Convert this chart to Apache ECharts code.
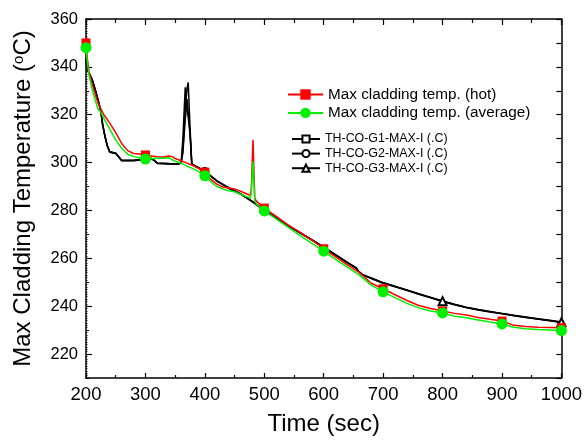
<!DOCTYPE html>
<html>
<head>
<meta charset="utf-8">
<script src="https://cdn.jsdelivr.net/npm/echarts@6/dist/echarts.min.js"></script>
<style>
  html, body { margin: 0; padding: 0; background: #fff; }
  #chart { width: 585px; height: 441px; }
</style>
</head>
<body>
<div id="chart"></div>
<script>
// model results: max cladding temperature, hot channel and average channel
var modelTime = [200, 202, 205, 210, 215, 220, 225, 230, 240, 250, 260, 270, 280, 290, 300, 310, 320, 330, 340, 345, 350, 360, 370, 380, 390, 400, 410, 420, 430, 440, 450, 460, 470, 476, 478, 481, 484, 487, 490, 500, 520, 540, 560, 580, 600, 620, 640, 660, 680, 700, 720, 740, 760, 780, 800, 820, 840, 860, 880, 900, 920, 940, 960, 980, 1000];
var hotTemp = [350, 344, 338, 333, 329, 325, 322.5, 320, 316.5, 312.5, 308, 305, 303.8, 303.6, 303.2, 302.8, 302.4, 302.3, 302.8, 302.5, 301.7, 300.8, 299.8, 298.8, 297.5, 296, 293, 291, 289.8, 289.4, 289, 288, 287, 286.3, 288, 309.5, 285, 283.8, 283, 281, 277.5, 274, 270.8, 267.6, 264, 260.6, 257.3, 254, 249.6, 247.3, 244.8, 242.4, 240.3, 239, 238, 237, 236.3, 235.3, 234.5, 233.8, 232, 231.5, 231.2, 231.1, 231];
var avgTemp = [348, 342.5, 336.5, 331, 326.5, 322.5, 321, 318.5, 314, 309.5, 306, 303.5, 302.5, 302, 301.5, 301.6, 301.8, 301.8, 302, 301.2, 300.6, 299.8, 298.5, 297.5, 296.2, 294.5, 292, 290, 289, 288.2, 287.8, 286.8, 285.8, 285.2, 287, 300.5, 284, 282.6, 282, 279.8, 276.5, 273, 269.6, 266.3, 263, 259.6, 256.3, 253, 248.8, 246, 243.6, 241.2, 239.3, 238, 237.2, 235.8, 235.2, 234.2, 233.4, 232.6, 231.2, 230.6, 230.3, 230.1, 229.8];
var modelMarks = [200, 300, 400, 500, 600, 700, 800, 900, 1000];

// measured thermocouples
var testTime = [200, 202, 205, 210, 215, 220, 225, 228, 232, 236, 240, 250, 255, 260, 280, 300, 310, 315, 320, 340, 355, 360, 363, 367, 370, 372, 375, 378, 385, 400, 420, 440, 460, 470, 480, 490, 500, 520, 540, 560, 580, 600, 620, 640, 655, 658, 665, 680, 700, 705, 720, 740, 760, 780, 800, 820, 840, 860, 880, 900, 920, 940, 960, 980, 1000];
var g1Temp = [344, 339, 337.5, 335, 331, 326.5, 321.5, 316, 311, 307, 304.5, 304, 302.5, 301, 301, 301.5, 301.8, 301, 299.8, 299.6, 299.5, 300, 305, 322, 331, 333.5, 315, 299.5, 298.5, 296.5, 292.5, 289.5, 287, 285.5, 283.8, 282, 280, 277, 273.8, 270.8, 267.8, 264.8, 261.5, 258.3, 256, 254.8, 253.3, 251.8, 249.8, 249.5, 248.3, 246.8, 245.2, 243.7, 242.2, 240.8, 239.6, 238.6, 237.8, 237, 236.2, 235.5, 234.8, 234.1, 233.4];
var g2Temp = [343, 339, 337.3, 334.8, 330.8, 326.3, 321.3, 315.8, 310.8, 306.8, 304.3, 303.8, 302.3, 300.8, 300.8, 301.3, 301.6, 300.8, 299.6, 299.4, 299.3, 299.8, 310, 331.5, 322, 319, 312, 299.3, 298.3, 296.3, 292.3, 289.3, 286.8, 285.3, 283.6, 281.8, 279.8, 276.8, 273.6, 270.6, 267.6, 264.6, 261.3, 258.1, 255.8, 254.6, 253.1, 251.6, 249.6, 249.3, 248.1, 246.6, 245, 243.5, 242, 240.6, 239.4, 238.4, 237.6, 236.8, 236, 235.3, 234.6, 233.9, 233.2];
var g3Temp = [343.5, 339, 337.4, 334.9, 330.9, 326.4, 321.4, 315.9, 310.9, 306.9, 304.4, 303.9, 302.4, 300.9, 300.9, 301.4, 301.7, 300.9, 299.7, 299.5, 299.4, 299.9, 304, 318, 326.5, 327, 313, 299.4, 298.4, 296.4, 292.4, 289.4, 286.9, 285.4, 283.7, 281.9, 279.9, 276.9, 273.7, 270.7, 267.7, 264.7, 261.4, 258.2, 255.9, 254.7, 253.2, 251.7, 249.7, 249.4, 248.2, 246.7, 245.1, 243.6, 242.1, 240.7, 239.5, 238.5, 237.7, 236.9, 236.1, 235.4, 234.7, 234, 233.3];
var g1Marks = [];
var g2Marks = [400];
var g3Marks = [800, 1000];

var yTicks = [220, 240, 260, 280, 300, 320, 340, 360];

var names = ['Max cladding temp. (hot)', 'Max cladding temp. (average)',
  'TH-CO-G1-MAX-I (.C)', 'TH-CO-G2-MAX-I (.C)', 'TH-CO-G3-MAX-I (.C)'];

function pts(xs, ys, marks) {
  return xs.map(function(x, i) {
    var p = {value: [x, ys[i]]}
    if (marks.indexOf(x) < 0) p.symbol = 'none'
    return p
  })
}

var font = 'Liberation Sans, Arial, sans-serif';
var axisLine = {show: true, lineStyle: {color: '#000', width: 1.5}};

var chart = echarts.init(document.getElementById('chart'));
chart.setOption({
  animation: false,
  grid: {left: 86, right: 22, top: 19, bottom: 63, containLabel: false},
  legend: [{
    data: names.slice(0, 2), orient: 'vertical', left: 287, top: 87, padding: 0,
    itemWidth: 35, itemHeight: 13, itemGap: 3.4,
    textStyle: {fontSize: 15.3, color: '#000', fontFamily: font}
  }, {
    data: names.slice(2), orient: 'vertical', left: 291, top: 133, padding: 0,
    itemWidth: 28, itemHeight: 9, itemGap: 2.6,
    textStyle: {fontSize: 12.4, color: '#000', fontFamily: font}
  }],
  xAxis: [{
    type: 'value', position: 'bottom', min: 200, max: 1000, interval: 100,
    axisLine: axisLine, splitLine: {show: false},
    axisTick: {inside: true, length: 5, lineStyle: {color: '#000', width: 1.2}},
    minorTick: {show: true, splitNumber: 2, length: 3, lineStyle: {color: '#000', width: 1.2}},
    axisLabel: {fontSize: 18.5, color: '#000', fontFamily: font, margin: 7,
      formatter: function(v) { return String(v) }},
    name: 'Time (sec)', nameLocation: 'middle', nameGap: 34,
    nameTextStyle: {fontSize: 24, color: '#000', fontFamily: font}
  }, {
    type: 'value', position: 'top', min: 200, max: 1000, interval: 100,
    axisLine: axisLine, splitLine: {show: false}, axisLabel: {show: false},
    axisTick: {inside: true, length: 6, lineStyle: {color: '#000', width: 1.2}},
    minorTick: {show: true, splitNumber: 2, length: 4, lineStyle: {color: '#000', width: 1.2}}
  }],
  yAxis: [{
    type: 'value', position: 'left', min: 210, max: 360, interval: 10,
    axisLine: axisLine, splitLine: {show: false},
    axisTick: {inside: true, length: 3, lineStyle: {color: '#000', width: 1}},
    minorTick: {show: true, splitNumber: 10, length: 1.5, lineStyle: {color: '#000', width: 0.8}},
    axisLabel: {fontSize: 16.5, color: '#000', fontFamily: font, margin: 8,
      formatter: function(v) { return yTicks.indexOf(v) >= 0 ? String(v) : '' }},
    name: 'Max Cladding Temperature ({sup|o}C)', nameLocation: 'middle', nameGap: 50,
    nameTextStyle: {fontSize: 24, color: '#000', fontFamily: font,
      rich: {sup: {fontSize: 15, color: '#000', fontFamily: font, verticalAlign: 'top', padding: [0, 0, 10, 0]}}}
  }, {
    type: 'value', position: 'right', min: 210, max: 360, interval: 10,
    axisLine: axisLine, splitLine: {show: false}, axisLabel: {show: false},
    axisTick: {inside: true, length: 5, lineStyle: {color: '#000', width: 1.2}}
  }, {
    type: 'value', position: 'left', min: 210, max: 360,
    axisLine: {show: false}, splitLine: {show: false}, axisLabel: {show: false},
    axisTick: {inside: true, length: 6, customValues: yTicks, lineStyle: {color: '#000', width: 1.2}}
  }],
  series: [{
    name: names[2], type: 'line', z: 2, data: pts(testTime, g1Temp, g1Marks),
    symbol: 'emptyRect', symbolSize: 7, showSymbol: true,
    lineStyle: {color: '#000', width: 1.5}, itemStyle: {color: '#000', borderWidth: 1}
  }, {
    name: names[3], type: 'line', z: 2, data: pts(testTime, g2Temp, g2Marks),
    symbol: 'emptyCircle', symbolSize: 7, showSymbol: true,
    lineStyle: {color: '#000', width: 1.5}, itemStyle: {color: '#000', borderWidth: 1}
  }, {
    name: names[4], type: 'line', z: 2, data: pts(testTime, g3Temp, g3Marks),
    symbol: 'emptyTriangle', symbolSize: 8, showSymbol: true,
    lineStyle: {color: '#000', width: 1.5}, itemStyle: {color: '#000', borderWidth: 1}
  }, {
    name: names[0], type: 'line', z: 3, data: pts(modelTime, hotTemp, modelMarks),
    symbol: 'rect', symbolSize: 9, showSymbol: true,
    lineStyle: {color: '#ff0000', width: 1.5}, itemStyle: {color: '#ff0000'}
  }, {
    name: names[1], type: 'line', z: 4, data: pts(modelTime, avgTemp, modelMarks),
    symbol: 'circle', symbolSize: 11, showSymbol: true,
    lineStyle: {color: '#00f000', width: 1.5}, itemStyle: {color: '#00f000'}
  }]
});
</script>
</body>
</html>
